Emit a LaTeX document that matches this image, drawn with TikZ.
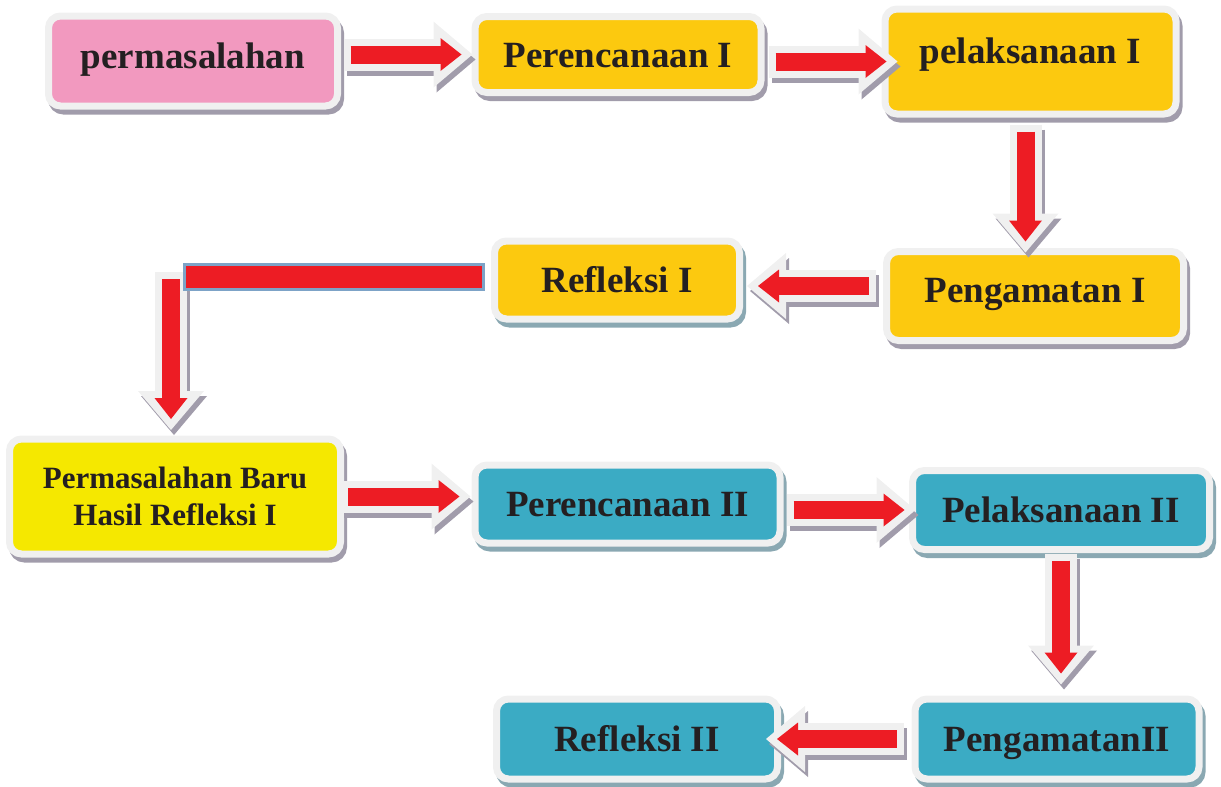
\documentclass[tikz,border=0pt]{standalone}
\usepackage{fontspec}
\setmainfont{Liberation Serif}
\usepackage{tikz}
\usetikzlibrary{arrows.meta}
\usetikzlibrary{shadows}
\usetikzlibrary{calc}
\definecolor{mred}{rgb}{0.93, 0.11, 0.14}
\definecolor{mrim}{rgb}{0.94, 0.94, 0.94}
\definecolor{mink}{rgb}{0.14, 0.12, 0.13}
\definecolor{mpink}{rgb}{0.95, 0.60, 0.75}
\definecolor{mgold}{rgb}{0.99, 0.79, 0.06}
\definecolor{mlemon}{rgb}{0.96, 0.91, 0.0}
\definecolor{mteal}{rgb}{0.23, 0.67, 0.77}
\definecolor{mgrey}{rgb}{0.63, 0.61, 0.67}
\definecolor{mslate}{rgb}{0.54, 0.66, 0.70}
\definecolor{mbar}{rgb}{0.49, 0.64, 0.78}
\tikzset{box/.style = {rectangle, rounded corners = 12pt, draw = mrim, line width = 7pt,
                       text = mink, inner sep = 0pt,
                       font = \bfseries\fontsize{37}{40}\selectfont}}
\tikzset{oneline/.style = {text height = 25pt, text depth = 0pt}}
\tikzset{greyshadow/.style = {drop shadow = {shadow xshift = 3pt, shadow yshift = -5pt,
                                             opacity = 1, fill = mgrey, draw = mgrey, line width = 7pt}}}
\tikzset{slateshadow/.style = {drop shadow = {shadow xshift = 3pt, shadow yshift = -5pt,
                                              opacity = 1, fill = mslate, draw = mslate, line width = 7pt}}}
\tikzset{arrowshade/.style = {draw = mgrey, line width = 32pt,
                              -{Triangle[width = 66pt, length = 39pt, line width = 0pt]},
                              transform canvas = {shift = {(3pt, -5pt)}}}}
\tikzset{arrowrim/.style = {draw = mrim, line width = 32pt,
                            -{Triangle[width = 66pt, length = 39pt, line width = 0pt]}}}
\tikzset{arrowcore/.style = {draw = mred, line width = 18pt,
                             -{Triangle[width = 33pt, length = 21pt, line width = 0pt]}}}
\tikzset{barout/.style = {draw = mbar, line width = 28pt}}
\tikzset{barin/.style = {draw = mred, line width = 22pt}}
\newcommand{\blockarrow}[4]{%
  \draw [arrowshade, shorten <= #3pt - 7pt, shorten >= #4pt - 11pt] (#1) -- (#2);
  \draw [arrowrim, shorten <= #3pt - 7pt, shorten >= #4pt - 11pt] (#1) -- (#2);
  \draw [arrowcore, shorten <= #3pt, shorten >= #4pt] (#1) -- (#2);
}

\begin{document}
\begin{tikzpicture}[x = 1pt, y = -1pt]
      \useasboundingbox (0, 0) rectangle (1221, 787);

      \node (perm) [box, oneline, greyshadow, fill = mpink, minimum width = 289pt, minimum height = 90pt,
                    text depth = 10pt] at (193, 61) {permasalahan};
      \node (per1) [box, oneline, greyshadow, fill = mgold, minimum width = 286pt, minimum height = 76pt]
                    at (618, 54.5) {Perencanaan I};
      \node (pel1) [box, oneline, greyshadow, fill = mgold, minimum width = 291pt, minimum height = 105pt,
                    text depth = 21pt] at (1030.5, 61.5) {pelaksanaan I};
      \node (peng1) [box, oneline, greyshadow, fill = mgold, minimum width = 297pt, minimum height = 89pt,
                     text depth = 12pt] at (1035, 296) {Pengamatan I};
      \node (ref1) [box, oneline, slateshadow, fill = mgold, minimum width = 245pt, minimum height = 78pt]
                    at (617, 280) {Refleksi I};
      \node (baru) [box, greyshadow, fill = mlemon, minimum width = 331pt, minimum height = 115pt,
                    align = center, font = \bfseries\fontsize{31}{37}\selectfont]
                    at (175, 496.5) {Permasalahan Baru\\Hasil Refleksi I};
      \node (per2) [box, oneline, slateshadow, fill = mteal, minimum width = 305pt, minimum height = 78pt]
                    at (627.5, 504) {Perencanaan II};
      \node (pel2) [box, oneline, slateshadow, fill = mteal, minimum width = 297pt, minimum height = 79pt]
                    at (1061, 510) {Pelaksanaan II};
      \node (peng2) [box, oneline, slateshadow, fill = mteal, minimum width = 284pt, minimum height = 80pt]
                     at (1057, 739) {PengamatanII};
      \node (ref2) [box, oneline, slateshadow, fill = mteal, minimum width = 281pt, minimum height = 80pt]
                    at (637, 739) {Refleksi II};

      \coordinate (p1tail) at ([yshift = 10pt]peng1.west);
      \coordinate (bend) at (183, 277);
      \coordinate (drop) at (171, 279);

      \blockarrow{perm.east |- per1.west}{per1.west}{9.5}{10}
      \blockarrow{per1.east |- pel1.west}{pel1.west}{11}{-5}
      \blockarrow{[xshift = -5pt]pel1.south}{[xshift = -5pt]pel1.south |- peng1.north}{14}{6.5}
      \blockarrow{p1tail}{p1tail -| ref1.east}{14.5}{15}
      \blockarrow{drop}{drop |- baru.north}{0}{16.5}
      \draw [barout, shorten <= 6.5pt] (bend -| ref1.west) -- (bend);
      \draw [barin, shorten <= 9.5pt, shorten >= 3pt] (bend -| ref1.west) -- (bend);
      \blockarrow{baru.east}{baru.east -| per2.west}{4}{12}
      \blockarrow{per2.east |- pel2.west}{pel2.west}{10}{4.5}
      \blockarrow{pel2.south}{pel2.south |- peng2.north}{7.5}{22}
      \blockarrow{peng2.west}{peng2.west -| ref2.east}{15}{-4}
\end{tikzpicture}
\end{document}
